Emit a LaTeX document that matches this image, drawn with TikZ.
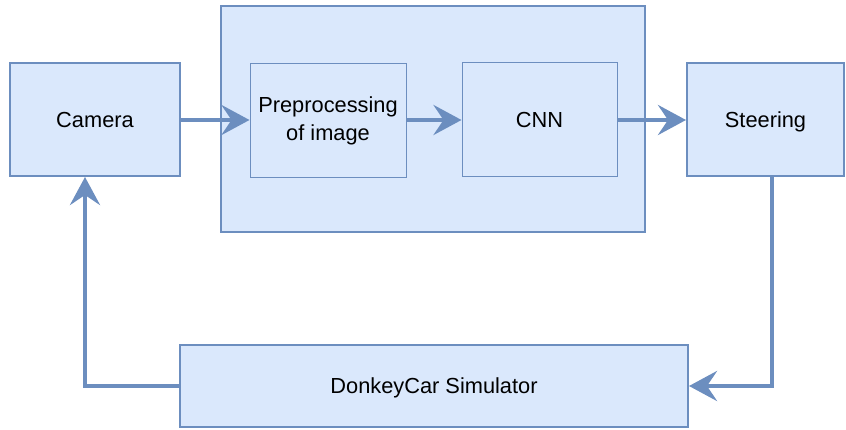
\documentclass[tikz,border=0pt]{standalone}
\usepackage{fontspec}
\setmainfont{Liberation Sans}
\usetikzlibrary{arrows.meta}
\definecolor{boxfill}{HTML}{DAE8FC}
\definecolor{boxline}{HTML}{6C8EBF}
\begin{document}
\begin{tikzpicture}[x=1pt,y=-1pt,
  blk/.style={draw=boxline,fill=boxfill,line width=2pt,inner sep=0pt,
    font=\fontsize{21.8}{28}\selectfont,align=center},
  inner/.style={blk,line width=1pt},
  oneline/.style={text height=15.6pt,text depth=0pt},
  flow/.style={draw=boxline,line width=4.2pt,
    -{Stealth[length=28pt,width=30pt,inset=10pt]}}]
\useasboundingbox (0,0) rectangle (846,430);
% outer processing block
\node[blk,minimum width=424pt,minimum height=226pt] (proc) at (433,119) {};
\node[blk,oneline,minimum width=170pt,minimum height=113pt] (cam) at (95,119.5) {Camera};
\node[inner,minimum width=156pt,minimum height=114pt] (pre) at (328,121) {Preprocessing\\of image};
\node[inner,oneline,minimum width=155pt,minimum height=114pt] (cnn) at (539.5,120) {CNN};
\node[blk,oneline,minimum width=157pt,minimum height=113pt] (steer) at (765.5,119.5) {Steering};
\node[blk,oneline,minimum width=508pt,minimum height=82pt] (sim) at (434,386) {DonkeyCar Simulator};
\coordinate (sr) at (772,386);
\coordinate (sl) at (85,386);
\draw[flow] (cam.east |- cnn.west) -- (pre.west |- cnn.west);
\draw[flow] (pre.east |- cnn.west) -- (cnn.west);
\draw[flow] (cnn.east) -- (steer.west |- cnn.east);
\draw[flow] (steer.south -| sr) -- (sr) -- (sim.east |- sr);
\draw[flow] (sim.west |- sl) -- (sl) -- (cam.south -| sl);
\end{tikzpicture}
\end{document}
